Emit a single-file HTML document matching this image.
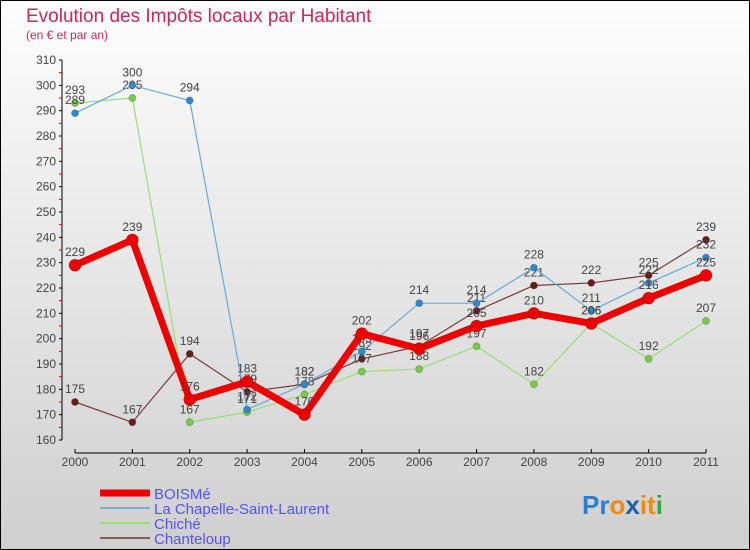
<!DOCTYPE html>
<html><head><meta charset="utf-8"><style>
body{margin:0}
#wrap{width:750px;height:550px;position:relative;box-sizing:border-box;border:1px solid #000;background:linear-gradient(#fdfdfd,#cfcfcf);font-family:"Liberation Sans",sans-serif;overflow:hidden}
</style></head><body>
<div id="wrap">
<svg id="chart" width="750" height="550" style="position:absolute;left:-1px;top:-1px">
<text x="26" y="22" font-size="19" fill="#c8285a">Evolution des Impôts locaux par Habitant</text>
<text x="26" y="39" font-size="12" fill="#c8285a">(en € et par an)</text>
<g id="axes"></g><g id="series"></g>
<g>
<line x1="100" y1="493" x2="150" y2="493" stroke="#ee0000" stroke-width="7"/><text x="154" y="499" font-size="15" fill="#5555ee">BOISMé</text>
<line x1="100" y1="508" x2="150" y2="508" stroke="#7aaacc" stroke-width="2"/><text x="154" y="514" font-size="15" fill="#5555ee">La Chapelle-Saint-Laurent</text>
<line x1="100" y1="523" x2="150" y2="523" stroke="#99dd77" stroke-width="2"/><text x="154" y="529" font-size="15" fill="#5555ee">Chiché</text>
<line x1="100" y1="538" x2="150" y2="538" stroke="#8a5a5a" stroke-width="2"/><text x="154" y="544" font-size="15" fill="#5555ee">Chanteloup</text>
</g>
<text x="582" y="514" font-size="26" font-weight="bold"><tspan fill="#2a7fd0">Pr</tspan><tspan fill="#f08a10">o</tspan><tspan fill="#1a5fb0">x</tspan><tspan fill="#f08a10">it</tspan><tspan fill="#33aa33">i</tspan></text>
</svg>
</div>
<script>
const years=[2000,2001,2002,2003,2004,2005,2006,2007,2008,2009,2010,2011];
const boisme=[229,239,176,183,170,202,196,205,210,206,216,225];
const chapelle=[289,300,294,172,182,195,214,214,228,211,222,232];
const chiche=[293,295,167,171,178,187,188,197,182,206,192,207];
const chanteloup=[175,167,194,179,182,192,197,211,221,222,225,239];
const yTicks=[160,170,180,190,200,210,220,230,240,250,260,270,280,290,300,310];
const NS="http://www.w3.org/2000/svg";
const x=i=>75+i*(706-75)/(years.length-1);
const y=v=>440-(v-160)*(380/150);
function mk(t,a,p){const e=document.createElementNS(NS,t);for(const k in a)e.setAttribute(k,a[k]);p.appendChild(e);return e;}
const ax=document.getElementById('axes');
const yl=mk('line',{x1:62,y1:y(310),x2:62,y2:y(160),stroke:'#000'},ax);


const xl=mk('line',{x1:75,y1:453,x2:706,y2:453,stroke:'#000'},ax);


yTicks.forEach(v=>{
  mk('line',{x1:59,y1:y(v),x2:62,y2:y(v),stroke:'#000'},ax);
  if(v<310)mk('line',{x1:59,y1:y(v+5),x2:62,y2:y(v+5),stroke:'#e00'},ax);
  const t=mk('text',{x:56,y:y(v)+4,'font-size':12,fill:'#444','text-anchor':'end'},ax);
  t.textContent=v;
  
  
});
years.forEach((yr,i)=>{
  mk('line',{x1:x(i),y1:449,x2:x(i),y2:453,stroke:'#000'},ax);
  const t=mk('text',{x:x(i),y:466,'font-size':12,fill:'#444','text-anchor':'middle'},ax);
  t.textContent=yr;
  
  
});
const sg=document.getElementById('series');
function series(data,color,w,r,name,mcol){
  const g=mk('g',{},sg);
  
  
  mk('polyline',{points:data.map((v,i)=>x(i)+','+y(v)).join(' '),fill:'none',stroke:color,'stroke-width':w,'stroke-linejoin':'round'},g);
  data.forEach((v,i)=>{
    const c=mk('circle',{cx:x(i),cy:y(v),r:r,fill:mcol,stroke:'rgba(0,0,0,0.2)'},g);
    
    
    const t=mk('text',{x:x(i),y:y(v)-9,'font-size':12,fill:'#444','text-anchor':'middle'},g);
    t.textContent=v;
    
    
  });
}
series(chanteloup,'#7a3a3a',1.2,3.5,'series-chanteloup','#6a1a1a');
series(chiche,'#99dd77',1.2,3.5,'series-chiche','#77cc44');
series(chapelle,'#66aadd',1.2,3.5,'series-chapelle','#3388cc');
series(boisme,'#ee0000',7,6,'series-boisme','#ee0000');
</script>
</body></html>
